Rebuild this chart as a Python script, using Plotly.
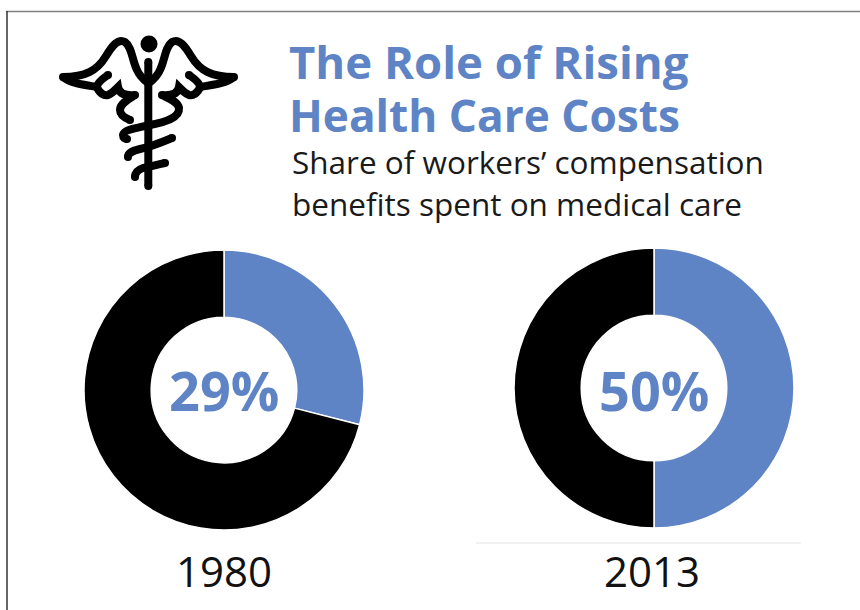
import re
import plotly.graph_objects as go

W, H = 860, 610

years = ["1980", "2013"]
medical_share = [29, 50]
other_share = [71, 50]
slice_labels = ["Medical care", "Other benefits"]

BLUE = "#5e84c5"
BLACK = "#000000"
FONT = "Open Sans"

# pixel box (left, right, top, bottom) of each ring
ring_boxes = [(84, 364, 250, 530), (514, 794, 248, 528)]
ring_centres = [(224, 390), (654, 390)]
year_x = [224, 652]


def px(x):
    return x / W


def py(y):
    return 1 - y / H


def scale_path(d):
    """Turn an SVG path written in page pixels into paper coordinates."""
    tokens = re.findall(r"[MLCQZ]|-?\d+\.?\d*", d)
    out, is_x = [], True
    for t in tokens:
        if t in "MLCQZ":
            out.append(t)
            is_x = True
        else:
            out.append(f"{px(float(t)):.5f}" if is_x else f"{py(float(t)):.5f}")
            is_x = not is_x
    return " ".join(out)


fig = go.Figure()

for i, year in enumerate(years):
    left, right, top, bottom = ring_boxes[i]
    fig.add_trace(go.Pie(
        labels=slice_labels,
        values=[medical_share[i], other_share[i]],
        name=year,
        sort=False,
        direction="clockwise",
        rotation=0,
        hole=0.52,
        textinfo="none",
        showlegend=False,
        marker=dict(colors=[BLUE, BLACK], line=dict(color="#ffffff", width=1.5)),
        domain=dict(x=[px(left), px(right)], y=[py(bottom), py(top)]),
    ))

shapes = [
    # frame along the top and left edge
    dict(type="line", xref="paper", yref="paper", x0=px(6), x1=1, y0=py(11.5), y1=py(11.5),
         line=dict(color="#808080", width=1.5)),
    dict(type="line", xref="paper", yref="paper", x0=px(7), x1=px(7), y0=py(11), y1=0,
         line=dict(color="#333333", width=1.5)),
    # rule above the 2013 label
    dict(type="line", xref="paper", yref="paper", x0=px(476), x1=px(801), y0=py(543), y1=py(543),
         line=dict(color="#e4e4e4", width=1)),
]

# Caduceus emblem: stroked curves, each with its rounded ends
STROKE = 8
strokes = [
    # staff
    ("M 148.3 62 L 148.3 186", [(148.3, 62), (148.3, 186)]),
    # left wing, upper and lower edge
    ("M 63 77 C 85 77 97 71 106 56 C 112 46 118 38 125 42 C 132 47 132 60 137 70 C 140 77 144 80 148 83",
     [(63, 77)]),
    ("M 63 77 C 72 84 85 85 97 87", []),
    # right wing, upper and lower edge
    ("M 234 77 C 212 77 200 71 191 56 C 185 46 179 38 172 42 C 165 47 165 60 160 70 C 157 77 153 80 149 83",
     [(234, 77)]),
    ("M 234 77 C 225 84 212 85 200 87", []),
    # left feathers
    ("M 108 75 C 102 79 97 83 97 87 C 99 93 104 96 108 95 C 113 93 116 89 118 87 "
     "C 119 93 124 96 135 95 C 127 100 120 104 120 110 C 120 115 125 118 130 120",
     [(108, 75), (135, 95), (130, 120)]),
    # right feathers and the serpent's first coil
    ("M 189 75 C 195 79 200 83 200 87 C 198 93 193 96 189 95 C 184 93 181 89 179 87 "
     "C 178 93 173 96 162 95 C 170 99 178 102 179 108 C 180 118 165 122 150 125 "
     "C 138 128 124 129 123 135 C 123 138 125 139 127 139",
     [(189, 75), (162, 95), (127, 139)]),
    # lower coils
    ("M 172 138 C 160 143 150 147 140 149 C 132 151 128 153 128 157", [(172, 138), (128, 157)]),
    ("M 165 163 C 155 165 150 167 143 168 C 137 170 135 173 135 177", [(165, 163), (135, 177)]),
]
for d, ends in strokes:
    shapes.append(dict(type="path", xref="paper", yref="paper", path=scale_path(d),
                       fillcolor="rgba(0,0,0,0)", line=dict(color=BLACK, width=STROKE)))
    for x, y in ends:
        r = STROKE / 2
        shapes.append(dict(type="circle", xref="paper", yref="paper",
                           x0=px(x - r), x1=px(x + r), y0=py(y + r), y1=py(y - r),
                           fillcolor=BLACK, line=dict(width=0)))
# knob at the top of the staff
shapes.append(dict(type="circle", xref="paper", yref="paper",
                   x0=px(140.5), x1=px(157.5), y0=py(52.5), y1=py(35.5),
                   fillcolor=BLACK, line=dict(width=0)))


def label(text, x, y, size, color, anchor="left", bold=False):
    return dict(text=f"<b>{text}</b>" if bold else text, x=px(x), y=py(y),
                xref="paper", yref="paper", xanchor=anchor, yanchor="middle",
                showarrow=False, font=dict(family=FONT, size=size, color=color))


annotations = [
    label("The Role of Rising", 287, 61, 45.5, BLUE, bold=True),
    label("Health Care Costs", 287, 115, 44.2, BLUE, bold=True),
    label("Share of workers’ compensation", 290, 161, 31.5, "#1a1a1a"),
    label("benefits spent on medical care", 290, 203, 31.5, "#1a1a1a"),
]
for i, year in enumerate(years):
    cx, cy = ring_centres[i]
    annotations.append(label(f"{medical_share[i]}%", cx, cy, 54, BLUE, "center", True))
    annotations.append(label(year, year_x[i], 570, 42, "#111111", "center"))

fig.update_layout(
    width=W, height=H,
    margin=dict(l=0, r=0, t=0, b=0),
    paper_bgcolor="#ffffff",
    shapes=shapes,
    annotations=annotations,
)

fig.write_html("out.html", config={"displayModeBar": False})
